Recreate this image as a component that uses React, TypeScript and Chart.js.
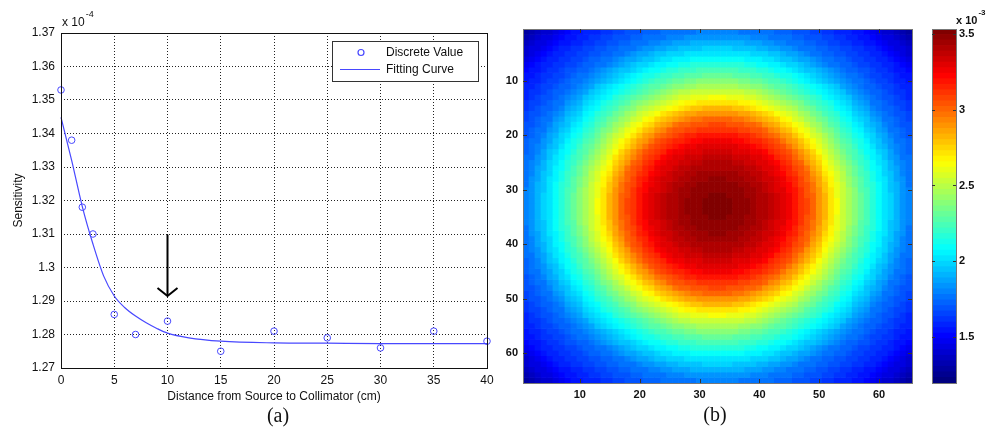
import React, { useEffect, useRef } from 'react';
import { Chart, registerables } from 'chart.js';

Chart.register(...registerables);

// ---------- Panel (a) data (sensitivity values in units of 1e-4) ----------
const DIST_CM = [0, 1, 2, 3, 5, 7, 10, 15, 20, 25, 30, 35, 40];
const SENSITIVITY = [1.353, 1.338, 1.318, 1.31, 1.286, 1.28, 1.284, 1.275, 1.281, 1.279, 1.276, 1.281, 1.278];
const FIT_X = [0, 1, 2, 3, 4, 5, 6, 7, 8, 9, 10, 12, 15, 20, 25, 30, 35, 40];
const FIT_Y = [1.3448, 1.332, 1.3182, 1.307, 1.2975, 1.2915, 1.288, 1.2855, 1.2835, 1.2818, 1.2804, 1.279, 1.278, 1.2775, 1.2774, 1.2773, 1.2773, 1.2773];
const A_X_TICKS = [0, 5, 10, 15, 20, 25, 30, 35, 40];
const A_Y_TICKS = [1.27, 1.28, 1.29, 1.3, 1.31, 1.32, 1.33, 1.34, 1.35, 1.36, 1.37];
const ARROW_X = 10;
const ARROW_TOP = 1.3098;
const ARROW_TIP = 1.2915;

// ---------- Panel (b) data (values in units of 1e-3) ----------
const GRID_N = 65;
const CENTER_COL = 33;
const CENTER_ROW = 33;
// radial profile: distance from centre (cells) -> value
const PROFILE_R = [0, 4, 8, 12, 16, 20, 24, 28, 32, 36, 40, 44, 46];
const PROFILE_V = [3.53, 3.5, 3.41, 3.27, 3.01, 2.63, 2.3, 2.03, 1.78, 1.64, 1.52, 1.33, 1.22];
const HM_TICKS = [10, 20, 30, 40, 50, 60];
const CB_MIN = 1.2;
const CB_MAX = 3.53;
const CB_TICKS = [1.5, 2, 2.5, 3, 3.5];
const CB_LEVELS = 64;

const FONT = '"Liberation Sans", Arial, sans-serif';
const BLUE = 'rgb(72,72,255)';

function profileAt(r: number): number {
  if (r <= PROFILE_R[0]) return PROFILE_V[0];
  for (let i = 1; i < PROFILE_R.length; i++) {
    if (r <= PROFILE_R[i]) {
      const t = (r - PROFILE_R[i - 1]) / (PROFILE_R[i] - PROFILE_R[i - 1]);
      return PROFILE_V[i - 1] + t * (PROFILE_V[i] - PROFILE_V[i - 1]);
    }
  }
  return PROFILE_V[PROFILE_V.length - 1];
}

function jet(t: number): string {
  const q = Math.round(Math.max(0, Math.min(1, t)) * (CB_LEVELS - 1)) / (CB_LEVELS - 1);
  const c = (v: number) => Math.round(255 * Math.max(0, Math.min(1, v)));
  const r = c(1.5 - Math.abs(4 * q - 3));
  const g = c(1.5 - Math.abs(4 * q - 2));
  const b = c(1.5 - Math.abs(4 * q - 1));
  return `rgb(${r},${g},${b})`;
}

function valueColor(v: number): string {
  return jet((v - CB_MIN) / (CB_MAX - CB_MIN));
}

const setTicks = (vals: number[]) => (s: any) => {
  s.ticks = vals.map((v) => ({ value: v }));
};

// ---------- Plugins ----------
const boxPlugin = (color: string) => ({
  id: 'box',
  afterDatasetsDraw(chart: any) {
    const { ctx, chartArea: a } = chart;
    ctx.save();
    ctx.strokeStyle = color;
    ctx.lineWidth = 1;
    ctx.strokeRect(Math.round(a.left) + 0.5, Math.round(a.top) + 0.5, Math.round(a.right - a.left), Math.round(a.bottom - a.top));
    ctx.restore();
  },
});

const legendPlugin = {
  id: 'boxLegend',
  afterDraw(chart: any) {
    const { ctx, chartArea: a } = chart;
    const ds = chart.data.datasets;
    const right = a.right - 9;
    const left = right - 146;
    const top = a.top + 8;
    ctx.save();
    ctx.fillStyle = '#fff';
    ctx.fillRect(left, top, 146, 40);
    ctx.strokeStyle = '#333';
    ctx.lineWidth = 1;
    ctx.strokeRect(left + 0.5, top + 0.5, 146, 40);
    ctx.font = `12px ${FONT}`;
    ctx.textBaseline = 'middle';
    ctx.fillStyle = '#111';
    ctx.strokeStyle = BLUE;
    ctx.lineWidth = 1.2;
    ctx.beginPath();
    ctx.arc(left + 29, top + 11.5, 3, 0, Math.PI * 2);
    ctx.stroke();
    ctx.fillText(ds[0].label, left + 54, top + 11.5);
    ctx.beginPath();
    ctx.moveTo(left + 8, top + 28.5);
    ctx.lineTo(left + 48, top + 28.5);
    ctx.stroke();
    ctx.fillText(ds[1].label, left + 54, top + 28.5);
    ctx.restore();
  },
};

const arrowPlugin = {
  id: 'arrow',
  afterDatasetsDraw(chart: any) {
    const { ctx, scales } = chart;
    const x = scales.x.getPixelForValue(ARROW_X);
    const y1 = scales.y.getPixelForValue(ARROW_TOP);
    const y2 = scales.y.getPixelForValue(ARROW_TIP);
    ctx.save();
    ctx.strokeStyle = '#000';
    ctx.lineWidth = 2;
    ctx.beginPath();
    ctx.moveTo(x, y1);
    ctx.lineTo(x, y2);
    ctx.stroke();
    ctx.beginPath();
    ctx.moveTo(x - 10, y2 - 8);
    ctx.lineTo(x, y2);
    ctx.lineTo(x + 10, y2 - 8);
    ctx.stroke();
    ctx.restore();
  },
};

const multiplierA = {
  id: 'multA',
  afterDraw(chart: any) {
    const { ctx, chartArea: a } = chart;
    ctx.save();
    ctx.fillStyle = '#111';
    ctx.textBaseline = 'middle';
    ctx.font = `12px ${FONT}`;
    const x0 = a.left + 1;
    ctx.fillText('x 10', x0, a.top - 10);
    const w = ctx.measureText('x 10').width;
    ctx.font = `9px ${FONT}`;
    ctx.fillText('-4', x0 + w + 1, a.top - 18);
    ctx.restore();
  },
};

const inwardTicks = (vals: number[], axis: string, sides: boolean, len: number) => ({
  id: 'inTicks',
  afterDatasetsDraw(chart: any) {
    const { ctx, chartArea: a, scales } = chart;
    ctx.save();
    ctx.strokeStyle = '#333';
    ctx.lineWidth = 1;
    ctx.beginPath();
    if (axis === 'both' || axis === 'x') {
      for (const v of vals) {
        const px = Math.round(scales.x.getPixelForValue(v)) + 0.5;
        ctx.moveTo(px, a.bottom);
        ctx.lineTo(px, a.bottom - len);
        ctx.moveTo(px, a.top);
        ctx.lineTo(px, a.top + len);
      }
    }
    if (axis === 'both' || axis === 'y') {
      for (const v of vals) {
        const py = Math.round(scales.y.getPixelForValue(v)) + 0.5;
        ctx.moveTo(a.left, py);
        ctx.lineTo(a.left + len, py);
        if (sides) {
          ctx.moveTo(a.right, py);
          ctx.lineTo(a.right - len, py);
        }
      }
    }
    ctx.stroke();
    ctx.restore();
  },
});

const multiplierB = {
  id: 'multB',
  afterDraw(chart: any) {
    const { ctx, chartArea: a } = chart;
    ctx.save();
    ctx.fillStyle = '#111';
    ctx.textBaseline = 'middle';
    ctx.font = `bold 11px ${FONT}`;
    const x0 = a.right;
    ctx.fillText('x 10', x0, a.top - 8);
    const w = ctx.measureText('x 10').width;
    ctx.font = `bold 8px ${FONT}`;
    ctx.fillText('-3', x0 + w + 1, a.top - 16);
    ctx.restore();
  },
};

export default function App() {
  const refA = useRef<HTMLCanvasElement>(null);
  const refB = useRef<HTMLCanvasElement>(null);
  const refC = useRef<HTMLCanvasElement>(null);

  useEffect(() => {
    const tickFont = { family: FONT, size: 12 };
    const chartA = new Chart(refA.current as HTMLCanvasElement, {
      type: 'scatter',
      data: {
        datasets: [
          {
            label: 'Discrete Value',
            data: DIST_CM.map((x, i) => ({ x, y: SENSITIVITY[i] })),
            showLine: false,
            pointRadius: 3.3,
            pointBorderWidth: 1,
            pointBorderColor: BLUE,
            pointBackgroundColor: 'rgba(0,0,0,0)',
            borderColor: BLUE,
            backgroundColor: 'rgba(0,0,0,0)',
            clip: false,
          } as any,
          {
            label: 'Fitting Curve',
            data: FIT_X.map((x, i) => ({ x, y: FIT_Y[i] })),
            showLine: true,
            pointRadius: 0,
            borderWidth: 1.2,
            borderColor: BLUE,
            backgroundColor: 'rgba(0,0,0,0)',
            cubicInterpolationMode: 'monotone',
            clip: false,
          } as any,
        ],
      },
      options: {
        animation: false,
        responsive: false,
        events: [],
        layout: { padding: { top: 33, right: 13, left: 0, bottom: 0 } },
        plugins: { legend: { display: false }, tooltip: { enabled: false } },
        scales: {
          x: {
            type: 'linear',
            min: 0,
            max: 40,
            afterBuildTicks: setTicks(A_X_TICKS),
            afterFit: (s: any) => { s.height = 60; },
            grid: { color: '#222', lineWidth: 1, drawTicks: false },
            border: { display: false, dash: [1, 2] },
            ticks: { padding: 5, color: '#111', font: tickFont, maxRotation: 0, autoSkip: false },
            title: { display: true, text: 'Distance from Source to Collimator (cm)', color: '#111', font: tickFont, padding: { top: 0, bottom: 24 } },
          },
          y: {
            type: 'linear',
            min: 1.27,
            max: 1.37,
            afterBuildTicks: setTicks(A_Y_TICKS),
            afterFit: (s: any) => { s.width = 61; },
            grid: { color: '#222', lineWidth: 1, drawTicks: false },
            border: { display: false, dash: [1, 2] },
            ticks: {
              padding: 6,
              color: '#111',
              font: tickFont,
              autoSkip: false,
              callback: (v: any) => String(+Number(v).toFixed(2)),
            },
            title: { display: true, text: 'Sensitivity', color: '#111', font: tickFont, padding: { top: 11, bottom: 0 } },
          },
        },
      } as any,
      plugins: [boxPlugin('#111'), arrowPlugin, legendPlugin, multiplierA],
    });

    // Heat map built from floating bars (one dataset per row)
    const cols = Array.from({ length: GRID_N }, (_, i) => i + 1);
    const rows = Array.from({ length: GRID_N }, (_, i) => i + 1);
    const cellValue = (c: number, r: number) =>
      profileAt(Math.hypot(c - CENTER_COL, r - CENTER_ROW));
    const boldTick = { family: FONT, size: 11, weight: 'bold' as const };

    const chartB = new Chart(refB.current as HTMLCanvasElement, {
      type: 'bar',
      data: {
        datasets: rows.map((r) => ({
          data: cols.map((c) => ({ x: c, y: [r - 0.5, r + 0.5] })),
          backgroundColor: cols.map((c) => valueColor(cellValue(c, r))),
          borderWidth: 0,
          grouped: false,
          barPercentage: 1,
          categoryPercentage: 1,
        })) as any,
      },
      options: {
        animation: false,
        responsive: false,
        events: [],
        layout: { padding: { top: 29, right: 13, left: 0, bottom: 0 } },
        plugins: { legend: { display: false }, tooltip: { enabled: false } },
        scales: {
          x: {
            type: 'linear',
            offset: false,
            min: 0.5,
            max: GRID_N + 0.5,
            afterBuildTicks: setTicks(HM_TICKS),
            afterFit: (s: any) => { s.height = 45; },
            grid: { display: false, drawTicks: false, offset: false },
            border: { display: false },
            ticks: { padding: 5, color: '#111', font: boldTick, maxRotation: 0, autoSkip: false },
          },
          y: {
            type: 'linear',
            min: 0.5,
            max: GRID_N + 0.5,
            reverse: true,
            afterBuildTicks: setTicks(HM_TICKS),
            afterFit: (s: any) => { s.width = 23; },
            grid: { display: false, drawTicks: false },
            border: { display: false },
            ticks: { padding: 5, color: '#111', font: boldTick, autoSkip: false },
          },
        },
      } as any,
      plugins: [boxPlugin('#777'), inwardTicks(HM_TICKS, 'both', true, 4)],
    });

    // Colour bar: floating segments on a linear value axis
    const step = (CB_MAX - CB_MIN) / CB_LEVELS;
    const segs = Array.from({ length: CB_LEVELS }, (_, i) => i);
    const chartC = new Chart(refC.current as HTMLCanvasElement, {
      type: 'bar',
      data: {
        labels: [''],
        datasets: segs.map((i) => ({
          data: [[CB_MIN + i * step, CB_MIN + (i + 1) * step + 0.001]],
          backgroundColor: jet((i + 0.5) / CB_LEVELS),
          borderWidth: 0,
          grouped: false,
          barPercentage: 1,
          categoryPercentage: 1,
        })) as any,
      },
      options: {
        animation: false,
        responsive: false,
        events: [],
        layout: { padding: { top: 29, right: 0, left: 7, bottom: 45 } },
        plugins: { legend: { display: false }, tooltip: { enabled: false } },
        scales: {
          x: { display: false },
          y: {
            type: 'linear',
            position: 'right',
            min: CB_MIN,
            max: CB_MAX,
            afterBuildTicks: setTicks(CB_TICKS),
            afterFit: (s: any) => { s.width = 30; },
            grid: { display: false, drawTicks: false },
            border: { display: false },
            ticks: { padding: 3, color: '#111', font: boldTick, autoSkip: false, callback: (v: any) => String(v) },
          },
        },
      } as any,
      plugins: [boxPlugin('#777'), inwardTicks(CB_TICKS, 'y', true, 3), multiplierB],
    });

    return () => {
      chartA.destroy();
      chartB.destroy();
      chartC.destroy();
    };
  }, []);

  const capStyle: React.CSSProperties = {
    position: 'absolute',
    width: 60,
    textAlign: 'center',
    fontFamily: '"Liberation Serif", "Times New Roman", serif',
    fontSize: 20,
    lineHeight: '20px',
    color: '#111',
  };

  return (
    <div style={{ position: 'fixed', left: 0, top: 0, width: 986, height: 428, background: '#fff', overflow: 'hidden' }}>
      <canvas ref={refA} width={500} height={428} style={{ position: 'absolute', left: 0, top: 0, width: 500, height: 428 }} />
      <canvas ref={refB} width={425} height={428} style={{ position: 'absolute', left: 500, top: 0, width: 425, height: 428 }} />
      <canvas ref={refC} width={61} height={428} style={{ position: 'absolute', left: 925, top: 0, width: 61, height: 428 }} />
      <div style={{ ...capStyle, left: 248, top: 405 }}>(a)</div>
      <div style={{ ...capStyle, left: 685, top: 404 }}>(b)</div>
    </div>
  );
}
